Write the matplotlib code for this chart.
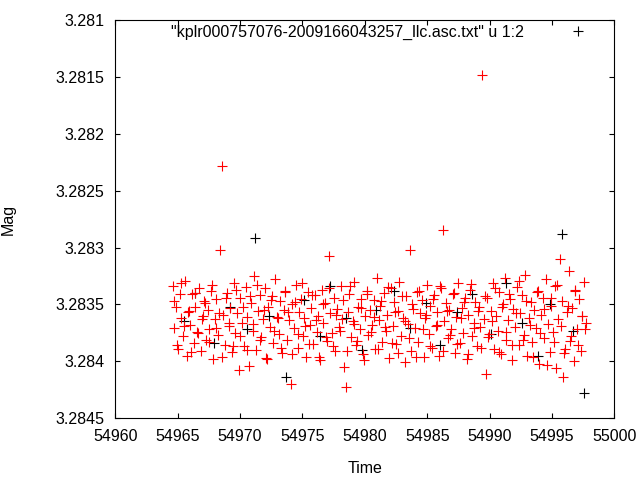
import matplotlib
matplotlib.use("Agg")
import matplotlib.pyplot as plt
plt.rcParams['font.family'] = ['Liberation Sans', 'DejaVu Sans']

time_red = [
54964.62,54964.75,54964.91,54965.03,54965.18,54965.31,54965.47,54965.60,54965.74,54965.88,54966.02,54966.15,54966.30,54966.43,54966.58,54966.71,54966.86,54967.00,54967.13,54967.27,
54967.41,54967.55,54967.69,54967.82,54967.97,54968.10,54968.24,54968.38,54968.52,54968.66,54968.80,54968.93,54969.08,54969.21,54969.35,54969.49,54969.63,54969.77,54969.91,54970.04,
54970.18,54970.32,54970.46,54970.60,54970.74,54970.87,54971.01,54971.15,54971.29,54971.43,54971.57,54971.70,54971.84,54971.98,54972.12,54972.26,54972.40,54972.53,54972.67,54972.81,
54972.95,54973.09,54973.23,54973.36,54973.50,54973.64,54973.78,54973.92,54974.06,54974.19,54974.33,54974.47,54974.61,54974.75,54974.89,54975.02,54975.16,54975.30,54975.44,54975.58,
54975.72,54975.85,54975.99,54976.13,54976.27,54976.41,54976.55,54976.68,54976.82,54976.96,54977.10,54977.24,54977.38,54977.51,54977.65,54977.79,54977.93,54978.07,54978.21,54978.34,
54978.48,54978.62,54978.76,54978.90,54979.04,54979.17,54979.31,54979.45,54979.59,54979.73,54979.87,54980.00,54980.14,54980.28,54980.42,54980.56,54980.70,54980.83,54980.97,54981.11,
54981.25,54981.39,54981.53,54981.66,54981.80,54981.94,54982.08,54982.22,54982.36,54982.49,54982.63,54982.77,54982.91,54983.05,54983.19,54983.32,54983.46,54983.60,54983.74,54983.88,
54984.02,54984.15,54984.29,54984.43,54984.57,54984.71,54984.85,54984.98,54985.12,54985.26,54985.40,54985.54,54985.68,54985.81,54985.95,54986.09,54986.23,54986.37,54986.51,54986.64,
54986.78,54986.92,54987.06,54987.20,54987.34,54987.47,54987.61,54987.75,54987.89,54988.03,54988.17,54988.30,54988.44,54988.58,54988.72,54988.86,54989.00,54989.13,54989.27,54989.41,
54989.55,54989.69,54989.83,54989.96,54990.10,54990.24,54990.38,54990.52,54990.66,54990.79,54990.93,54991.07,54991.21,54991.35,54991.49,54991.62,54991.76,54991.90,54992.04,54992.18,
54992.32,54992.45,54992.59,54992.73,54992.87,54993.01,54993.15,54993.28,54993.42,54993.56,54993.70,54993.84,54993.98,54994.11,54994.25,54994.39,54994.53,54994.67,54994.81,54994.94,
54995.08,54995.22,54995.36,54995.50,54995.64,54995.77,54995.91,54996.05,54996.19,54996.33,54996.47,54996.60,54996.74,54996.88,54997.02,54997.16,54997.30,54997.44,54997.58,54997.75,
]
mag_red = [
3.28334,3.28371,3.28352,3.28389,3.28341,3.28362,3.28378,3.28329,3.28395,3.28356,3.28368,3.28341,3.28384,3.28352,3.28374,3.28336,3.28391,3.28360,3.28347,3.28381,
3.28355,3.28372,3.28338,3.28398,3.28363,3.28345,3.28377,3.28302,3.28228,3.28359,3.28386,3.28340,3.28369,3.28353,3.28392,3.28331,3.28375,3.28358,3.28408,3.28344,
3.28366,3.28387,3.28335,3.28361,3.28404,3.28349,3.28373,3.28325,3.28390,3.28356,3.28342,3.28379,3.28363,3.28336,3.28397,3.28352,3.28370,3.28343,3.28384,3.28328,
3.28361,3.28376,3.28347,3.28393,3.28355,3.28338,3.28381,3.28364,3.28420,3.28350,3.28371,3.28333,3.28388,3.28357,3.28345,3.28378,3.28362,3.28396,3.28339,3.28368,
3.28353,3.28385,3.28342,3.28374,3.28360,3.28399,3.28337,3.28366,3.28349,3.28382,3.28307,3.28358,3.28375,3.28344,3.28391,3.28354,3.28370,3.28334,3.28363,3.28405,
3.28423,3.28357,3.28341,3.28379,3.28365,3.28330,3.28386,3.28352,3.28372,3.28345,3.28394,3.28360,3.28338,3.28377,3.28355,3.28368,3.28346,3.28389,3.28327,3.28364,
3.28351,3.28383,3.28340,3.28373,3.28359,3.28397,3.28336,3.28369,3.28348,3.28385,3.28356,3.28330,3.28378,3.28362,3.28401,3.28343,3.28367,3.28302,3.28391,3.28354,
3.28371,3.28339,3.28383,3.28358,3.28346,3.28396,3.28362,3.28333,3.28376,3.28351,3.28388,3.28342,3.28369,3.28357,3.28395,3.28336,3.28285,3.28365,3.28349,3.28380,
3.28355,3.28372,3.28341,3.28393,3.28361,3.28331,3.28384,3.28353,3.28375,3.28344,3.28398,3.28359,3.28337,3.28378,3.28366,3.28348,3.28387,3.28352,3.28370,3.28148,
3.28363,3.28411,3.28344,3.28376,3.28356,3.28331,3.28389,3.28360,3.28373,3.28339,3.28394,3.28350,3.28327,3.28381,3.28364,3.28345,3.28399,3.28354,3.28370,3.28335,
3.28386,3.28358,3.28342,3.28377,3.28324,3.28395,3.28362,3.28348,3.28383,3.28355,3.28371,3.28338,3.28402,3.28359,3.28344,3.28380,3.28328,3.28367,3.28392,3.28351,
3.28374,3.28334,3.28406,3.28363,3.28310,3.28347,3.28414,3.28389,3.28357,3.28321,3.28382,3.28353,3.28400,3.28337,3.28372,3.28345,3.28391,3.28360,3.28330,3.28366,
]
time_red2 = [
54964.70,54964.97,54965.24,54965.53,54965.81,54966.09,54966.37,54966.65,54966.93,54967.20,54967.48,54967.76,54968.04,54968.31,54968.59,54968.87,54969.15,54969.42,54969.70,54969.98,
54970.25,54970.53,54970.81,54971.08,54971.36,54971.64,54971.91,54972.19,54972.47,54972.74,54973.02,54973.30,54973.57,54973.85,54974.13,54974.40,54974.68,54974.96,54975.23,54975.51,
54975.79,54976.06,54976.34,54976.62,54976.89,54977.17,54977.45,54977.72,54978.00,54978.28,54978.55,54978.83,54979.11,54979.38,54979.66,54979.94,54980.21,54980.49,54980.77,54981.04,
54981.32,54981.60,54981.87,54982.15,54982.43,54982.70,54982.98,54983.26,54983.53,54983.81,54984.09,54984.36,54984.64,54984.92,54985.19,54985.47,54985.75,54986.02,54986.30,54986.58,
54986.85,54987.13,54987.41,54987.68,54987.96,54988.24,54988.51,54988.79,54989.07,54989.34,54989.62,54989.90,54990.17,54990.45,54990.73,54991.00,54991.28,54991.56,54991.83,54992.11,
54992.39,54992.66,54992.94,54993.22,54993.49,54993.77,54994.05,54994.32,54994.60,54994.88,54995.15,54995.43,54995.71,54995.98,54996.26,54996.54,54996.81,54997.09,54997.37,54997.65,
]
mag_red2 = [
3.28347,3.28386,3.28331,3.28369,3.28357,3.28392,3.28340,3.28375,3.28363,3.28349,3.28383,3.28333,3.28371,3.28358,3.28396,3.28344,3.28366,3.28387,3.28337,3.28378,
3.28352,3.28390,3.28343,3.28367,3.28333,3.28381,3.28355,3.28398,3.28346,3.28373,3.28362,3.28388,3.28339,3.28357,3.28394,3.28348,3.28376,3.28331,3.28369,3.28385,
3.28342,3.28364,3.28396,3.28350,3.28379,3.28336,3.28387,3.28359,3.28373,3.28346,3.28391,3.28334,3.28367,3.28382,3.28353,3.28399,3.28341,3.28374,3.28361,3.28389,
3.28347,3.28370,3.28335,3.28384,3.28357,3.28393,3.28343,3.28365,3.28380,3.28350,3.28396,3.28338,3.28372,3.28359,3.28387,3.28345,3.28368,3.28334,3.28391,3.28356,
3.28377,3.28340,3.28385,3.28362,3.28348,3.28394,3.28332,3.28371,3.28356,3.28388,3.28343,3.28379,3.28365,3.28336,3.28392,3.28352,3.28374,3.28341,3.28386,3.28358,
3.28329,3.28381,3.28347,3.28368,3.28396,3.28339,3.28375,3.28354,3.28403,3.28344,3.28383,3.28333,3.28369,3.28393,3.28351,3.28378,3.28338,3.28386,3.28360,3.28372,
]
time_black = [54965.5,54966.4,54967.9,54969.2,54970.6,54971.2,54972.3,54973.7,54975.1,54976.4,54977.2,54978.5,54979.8,54980.9,54982.3,54983.6,54984.9,54986.0,54987.4,54988.6,54990.1,54991.3,54992.6,54993.9,54994.8,54995.8,54996.7,54997.6]
mag_black = [3.28365,3.28340,3.28384,3.28352,3.28372,3.28292,3.28360,3.28414,3.28346,3.28378,3.28334,3.28362,3.28390,3.28355,3.28338,3.28371,3.28349,3.28386,3.28357,3.28341,3.28376,3.28331,3.28366,3.28395,3.28350,3.28288,3.28373,3.28428]

fig = plt.figure(figsize=(6.4, 4.8), dpi=100)
ax = fig.add_axes([0.18, 0.129, 0.78, 0.829])
ax.plot(time_black, mag_black, '+', color='black', ms=7, mew=0.8,
        label='"kplr000757076-2009166043257_llc.asc.txt" u 1:2')
ax.plot(time_red, mag_red, '+', color='red', ms=7, mew=0.8)
ax.plot(time_red2, mag_red2, '+', color='red', ms=7, mew=0.8)
ax.set_xlim(54960, 55000)
ax.set_ylim(3.2845, 3.281)
ax.set_yticks([3.281, 3.2815, 3.282, 3.2825, 3.283, 3.2835, 3.284, 3.2845])
ax.set_yticklabels(['3.281', '3.2815', '3.282', '3.2825', '3.283', '3.2835', '3.284', '3.2845'])
ax.set_xticks(range(54960, 55001, 5))
ax.tick_params(direction='in', top=True, right=True, labelsize=11.5)
ax.tick_params(axis='x', pad=8)
ax.tick_params(axis='y', pad=8)
ax.set_xlabel('Time', fontsize=11.5, labelpad=12)
ax.set_ylabel('Mag', labelpad=28, fontsize=11.5)
ax.legend(loc='upper right', frameon=False, markerfirst=False, fontsize=11.5,
          handletextpad=2.6, handlelength=1.5, borderaxespad=0.0, borderpad=0.3,
          bbox_to_anchor=(0.96, 1.0))
fig.savefig('out.png', dpi=100)
